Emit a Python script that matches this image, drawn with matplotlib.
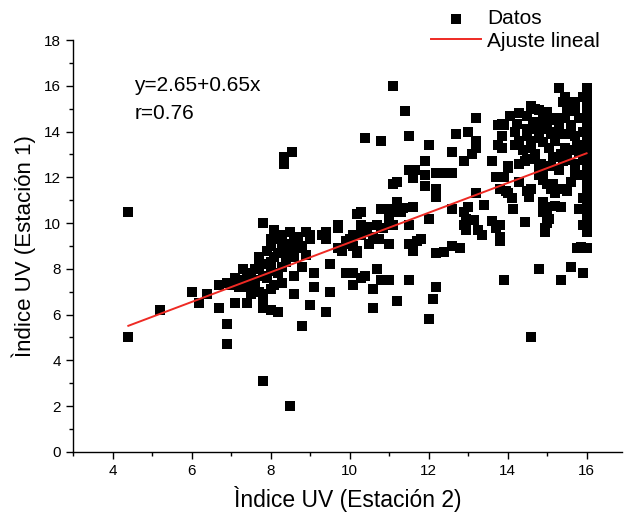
import matplotlib
matplotlib.use("Agg")
import matplotlib.pyplot as plt
from matplotlib.ticker import MultipleLocator

plt.rcParams['font.family'] = ['Liberation Sans', 'DejaVu Sans']

# datos (x = Estacion 2, y = Estacion 1)
x_left = [4.4, 4.4, 5.2, 6.0, 6.2, 6.4, 6.7, 6.9, 6.9, 7.1, 7.4, 7.8, 8.5]
y_left = [10.5, 5.0, 6.2, 7.0, 6.5, 6.9, 6.3, 5.6, 4.7, 6.5, 6.5, 3.1, 2.0]

x_mid = [6.7, 6.9, 7.0, 7.3, 7.3, 7.4, 7.5, 7.6, 7.6, 7.7, 7.7, 7.8, 7.8, 7.8, 7.8,
         7.7, 7.8, 7.9, 8.0, 8.1, 8.0, 8.2, 8.2, 8.3, 8.3, 8.3, 8.5, 8.6, 8.6, 8.6,
         8.7, 8.7, 8.8, 8.8, 8.8, 9.0, 9.0, 9.1, 9.1, 9.3, 9.4, 9.4, 9.5, 9.5, 9.7,
         9.7, 9.9, 10.0, 10.1, 10.2, 10.2, 10.3, 10.4, 10.4,
         7.5, 7.6, 7.9, 8.0, 8.0, 8.1, 8.2, 8.4, 8.5, 8.4, 8.1, 8.0, 7.9, 8.2, 8.4,
         8.6, 8.9, 7.4, 7.2, 7.1, 8.3, 8.5, 8.9,
         8.55, 8.35, 8.35]
y_mid = [7.3, 7.4, 7.3, 8.0, 7.5, 7.2, 6.9, 8.0, 7.5, 7.0, 8.1, 7.7, 6.9, 6.3, 6.5,
         8.5, 10.0, 8.8, 9.0, 9.7, 6.2, 6.1, 9.3, 7.4, 8.1, 8.8, 9.1, 9.3, 7.7, 6.9,
         9.4, 8.9, 5.5, 9.0, 8.1, 9.5, 6.4, 7.8, 7.2, 9.5, 6.1, 9.6, 8.2, 7.0, 9.8,
         8.9, 7.8, 9.3, 7.3, 8.8, 10.4, 10.5, 7.7, 9.6,
         7.8, 7.3, 7.6, 8.3, 7.9, 8.5, 8.7, 8.5, 8.8, 9.0, 7.3, 7.1, 8.2, 7.8, 8.3,
         8.5, 8.6, 7.6, 7.2, 7.6, 9.5, 9.6, 9.6,
         13.1, 12.9, 12.6]

x_c = [8.0, 8.3, 8.4, 9.0, 9.4, 9.7, 9.9, 10.1, 9.8, 10.3, 10.45, 10.6, 10.7, 10.85,
       10.75, 10.8, 10.6, 10.7, 10.8, 10.6, 10.1, 10.3, 10.0, 10.1, 10.3, 10.2, 10.5,
       10.4, 10.8]
y_c = [9.3, 9.2, 9.0, 9.3, 9.3, 9.9, 9.2, 9.0, 8.8, 9.9, 9.85, 9.4, 9.9, 9.8,
       9.3, 10.6, 7.1, 8.0, 7.5, 6.3, 7.8, 7.6, 9.1, 9.5, 9.5, 8.7, 9.1,
       13.7, 13.6]

x_d = [11.1, 11.4, 11.5, 12.0, 13.2, 13.0, 12.7, 13.2, 13.2, 13.1, 12.9, 12.6, 11.9,
       11.5, 11.65, 11.6, 11.9, 11.9, 12.2, 12.4, 12.6, 12.2, 12.2, 11.1, 11.2,
       11.0, 11.2, 11.35, 11.6, 11.1, 11.3, 11.0, 11.1, 10.8, 11.0, 11.5, 11.6, 11.7,
       11.8, 11.5, 12.0, 12.2, 12.4, 12.6, 12.8, 12.6, 12.9, 12.95, 12.9, 12.95, 13.0,
       13.15, 13.25, 13.35, 13.4, 13.2, 13.6, 13.7, 13.8, 13.7, 13.6, 13.7, 13.8,
       13.75, 13.75, 11.0, 11.5, 12.2, 11.2, 12.1, 12.0]
y_d = [16.0, 14.9, 13.8, 13.4, 14.6, 14.0, 13.9, 13.6, 13.3, 13.0, 12.7, 13.1, 12.7,
       12.3, 12.3, 11.95, 12.1, 11.6, 12.2, 12.2, 12.2, 11.5, 11.15, 11.7, 11.8,
       10.6, 10.9, 10.65, 10.7, 10.5, 10.5, 10.2, 9.9, 9.8, 9.1, 9.1, 8.8, 9.2,
       9.3, 9.9, 10.2, 8.7, 8.75, 9.0, 8.9, 10.6, 9.9, 9.7, 10.5, 10.2, 10.7,
       10.15, 9.7, 9.5, 10.8, 11.3, 10.1, 9.8, 9.2, 9.9, 12.7, 12.0, 12.0,
       14.3, 13.4, 7.5, 7.5, 7.2, 6.6, 6.7, 5.8]

x_e = [13.85, 13.85, 14.2, 14.3, 14.5, 14.6, 14.6, 14.9, 15.05, 15.45, 15.35, 15.6, 15.75,
       15.7, 14.7, 14.05, 14.25, 13.9, 13.85, 14.6, 14.8, 14.5, 15.0, 15.1, 15.2, 15.3,
       15.45, 15.6, 14.65, 14.75, 14.9, 15.0, 15.1, 15.3, 15.3, 15.45, 15.55, 15.7, 15.7,
       14.7, 15.4, 14.0, 14.3, 14.45, 14.8, 14.9, 15.15, 15.3, 15.7, 15.7, 15.8, 15.5,
       15.9, 15.4, 14.85, 14.5, 13.85, 13.8, 13.95, 14.1, 14.5, 14.6, 14.9, 15.0, 15.1,
       15.2, 15.35, 15.15, 14.8, 14.55, 14.0, 13.9, 14.0, 14.9, 15.0, 15.2, 15.35, 15.05,
       14.95, 14.15, 14.45, 13.8, 13.8, 15.8, 15.0, 15.0, 14.9, 14.95, 15.9, 15.75, 15.85,
       13.9, 14.8, 15.35, 15.6, 15.9, 14.6,
       15.9, 15.9, 15.95, 15.9,
       14.2, 14.4, 14.8, 15.2, 15.5, 15.6, 15.2, 14.5, 14.3, 14.9, 15.5, 15.8, 15.8,
       14.7, 15.1, 15.6, 15.5, 14.3]
y_e = [13.8, 13.3, 13.4, 13.6, 13.8, 13.6, 13.3, 13.55, 13.3, 13.3, 13.0, 13.2, 13.4,
       13.8, 13.0, 14.7, 14.35, 14.3, 14.35, 15.1, 14.95, 14.7, 14.85, 14.5, 14.6, 14.3,
       14.6, 14.3, 14.4, 14.1, 14.2, 14.1, 13.9, 13.9, 15.9, 15.5, 15.1, 15.3, 14.9,
       15.0, 15.3, 12.5, 12.6, 12.7, 12.55, 12.2, 12.9, 12.3, 12.6, 12.15, 12.1, 12.75,
       12.75, 12.7, 12.6, 12.8, 12.0, 11.5, 11.4, 11.1, 11.4, 11.5, 11.9, 11.7, 11.5,
       11.3, 11.5, 11.7, 12.1, 11.15, 11.3, 12.0, 12.4, 10.9, 10.7, 10.75, 10.7, 10.2,
       9.8, 10.6, 10.05, 9.9, 9.4, 10.6, 10.0, 10.3, 10.5, 9.6, 11.1, 8.9, 8.95,
       7.5, 8.0, 7.5, 8.1, 7.8, 5.0,
       15.5, 14.0, 13.2, 9.9,
       14.0, 13.2, 13.7, 13.6, 13.9, 14.0, 14.0, 14.1, 14.8, 14.5, 15.0, 14.6, 13.1,
       12.8, 12.5, 11.8, 11.4, 11.8]

x_col = [16.0] * 23
y_col = [15.9, 15.6, 15.3, 15.0, 14.7, 14.4, 14.1, 13.8, 13.5, 13.2, 12.9, 12.6,
         12.3, 12.0, 11.7, 11.4, 11.1, 10.8, 10.5, 10.2, 9.9, 9.6, 8.9]

x_data = x_left + x_mid + x_c + x_d + x_e + x_col
y_data = y_left + y_mid + y_c + y_d + y_e + y_col

# ajuste lineal del grafico
a = 2.65
b = 0.65
r = 0.76

fig = plt.figure(figsize=(6.24, 5.2), dpi=100)
ax = fig.add_axes([0.117, 0.131, 0.88, 0.792])

ax.scatter(x_data, y_data, marker='s', s=46, color='black', linewidths=0,
           label='Datos', zorder=2)
xf = [min(x_data), max(x_data)]
yf = [a + b * v for v in xf]
ax.plot(xf, yf, color='#ee2a24', lw=1.4, label='Ajuste lineal', zorder=3)

ax.set_xlim(3, 16.9)
ax.set_ylim(0, 18)
ax.xaxis.set_major_locator(MultipleLocator(2))
ax.xaxis.set_minor_locator(MultipleLocator(1))
ax.yaxis.set_major_locator(MultipleLocator(2))
ax.yaxis.set_minor_locator(MultipleLocator(1))
ax.tick_params(which='major', direction='out', length=5, width=1, labelsize=11)
ax.tick_params(which='minor', direction='out', length=3, width=1)
ax.spines['top'].set_visible(False)
ax.spines['right'].set_visible(False)
ax.spines['left'].set_linewidth(1)
ax.spines['bottom'].set_linewidth(1)

ax.set_xlabel('Ìndice UV (Estación 2)', fontsize=16.5, labelpad=6)
ax.set_ylabel('Ìndice UV (Estación 1)', fontsize=16, labelpad=6)

ax.text(4.55, 16.0, 'y=%.2f+%.2fx' % (a, b), fontsize=15, va='center')
ax.text(4.55, 14.8, 'r=%.2f' % r, fontsize=15, va='center')

ax.legend(loc='upper right', bbox_to_anchor=(0.985, 1.01), bbox_transform=fig.transFigure,
          frameon=False, fontsize=15, handlelength=2.4, handletextpad=0.3,
          labelspacing=0.15, borderpad=0.2)

fig.savefig('out.png', dpi=100)
